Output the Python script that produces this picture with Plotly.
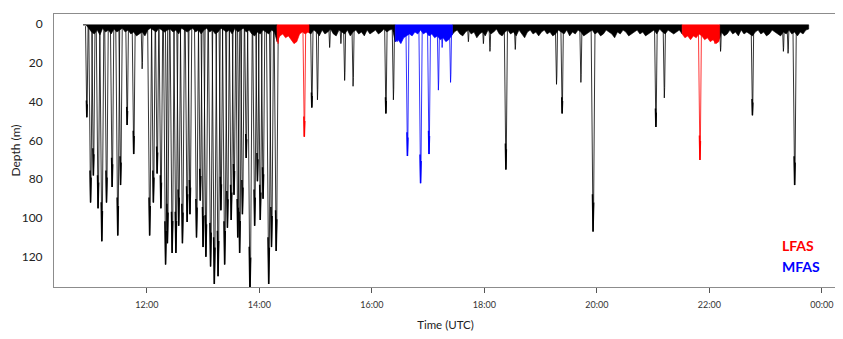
import numpy as np
import plotly.graph_objects as go

# ---------------- data ----------------
# Dives: time of deepest point (UTC) and maximum depth (m)
dive_time = [
    "10:56", "11:00", "11:03", "11:08", "11:12", "11:17", "11:23", "11:29", "11:32",
    "11:39", "11:46", "11:55", "12:03", "12:07", "12:11", "12:15", "12:20", "12:22",
    "12:27", "12:31", "12:34", "12:38", "12:43", "12:46", "12:53", "12:57", "13:00",
    "13:03", "13:08", "13:12", "13:16", "13:19", "13:23", "13:26", "13:30", "13:33",
    "13:37", "13:39", "13:42", "13:46", "13:50", "13:55", "13:58", "14:01", "14:04",
    "14:10", "14:13", "14:18",
    "14:20", "14:48",
    "14:56", "15:02", "15:15", "15:27", "15:31", "15:40", "16:15", "16:23",
    "16:27", "16:38", "16:52", "17:01", "17:11", "17:15", "17:24",
    "17:43", "17:59", "18:06", "18:23", "18:33", "19:17", "19:23", "19:43", "19:56",
    "21:03", "21:12",
    "21:50", "22:06",
    "22:12", "22:46", "23:19", "23:24", "23:31",
]
dive_depth = [
    48, 92, 78, 95, 112, 92, 84, 109, 83,
    52, 67, 23, 109, 92, 77, 95, 124, 113,
    118, 118, 104, 113, 102, 98, 110, 91, 115,
    120, 125, 134, 130, 96, 124, 105, 101, 88,
    110, 118, 98, 69, 140, 104, 81, 101, 90,
    134, 115, 117,
    10, 58,
    43, 39, 12, 10, 29, 32, 46, 39,
    9, 68, 82, 67, 34, 12, 30,
    9, 10, 14, 75, 13, 31, 46, 30, 107,
    53, 38,
    70, 10,
    14, 47, 14, 15, 83,
]

# Near-surface activity band: lower edge depth (m), one value every 3 minutes
band_start = "10:52"
band_step_min = 3
band_depth = [
    # 10:52 - 14:16
    0.3, 0.3, 2, 4, 5, 3, 5.5, 2, 4, 3, 5, 2.5, 4, 3, 2, 4, 3, 5, 4, 6, 5, 4, 6, 3,
    2, 3, 4, 2, 3, 4, 3, 2.5, 4, 3, 5, 2, 3, 4, 3, 2, 4, 3, 5, 3, 2, 4, 3, 5, 4, 2,
    3, 4, 3, 5, 2, 4, 3, 2, 4, 3, 5, 6, 4, 5, 3, 4, 5, 3, 4,
    # 14:19 - 14:52
    9, 6, 5, 7, 6, 8, 10, 9, 5, 4, 5, 4,
    # 14:55 - 16:22
    5, 3, 4, 6, 3, 5, 4, 2.5, 5, 6, 3, 4, 5, 3, 6, 4, 3, 5, 4, 6,
    3, 5, 4, 3, 5, 4, 2.5, 4, 3, 2.5,
    # 16:25 - 17:25
    9, 8, 10, 7, 6, 5, 6, 4, 5, 3, 5, 4, 6, 5, 7, 6, 8, 7, 9, 8, 6,
    # 17:28 - 21:28
    4, 3, 5, 6, 4, 3, 5, 4, 7, 5, 4, 6, 3, 5, 4, 2.5, 5, 6, 4, 3,
    5, 4, 6, 3, 5, 7, 4, 3, 5, 4, 6, 4, 3, 5, 4, 6, 5, 3, 4, 5,
    3, 6, 4, 5, 3, 4, 6, 5, 4, 3, 5, 4, 6, 5, 3, 4, 5, 7, 4, 5,
    3, 4, 6, 5, 4, 3, 5, 4, 6, 5, 4, 3, 5, 2.5, 4, 5, 3, 4, 5, 4, 3,
    # 21:31 - 22:10
    5, 7, 6, 8, 6, 7, 5, 6, 8, 7, 9, 8, 10, 9,
    # 22:13 - 23:46
    4, 6, 5, 3, 5, 4, 6, 3, 5, 4, 5, 6, 4, 3, 5, 4, 6, 5, 3, 4,
    5, 6, 4, 5, 3, 5, 4, 6, 4, 5, 3, 2.5,
]

# Sonar exposure periods
lfas_periods = [("14:19", "14:53"), ("21:31", "22:11")]
mfas_periods = [("16:25", "17:26")]

tick_hours = [12, 14, 16, 18, 20, 22, 24]
tick_labels = ["12:00", "14:00", "16:00", "18:00", "20:00", "22:00", "00:00"]
depth_ticks = [0, 20, 40, 60, 80, 100, 120]

# ---------------- helpers ----------------
def hours(s):
    h, m = s.split(":")
    return int(h) + int(m) / 60.0

BLACK, RED, BLUE = "#000000", "#ff0000", "#0000ff"
SURF = 0.3

bt = hours(band_start) + np.arange(len(band_depth)) * band_step_min / 60.0
bd = np.array(band_depth, dtype=float)
t_start, t_end = bt[0], bt[-1]

colored = [(hours(a), hours(b), RED) for a, b in lfas_periods] + \
          [(hours(a), hours(b), BLUE) for a, b in mfas_periods]
colored.sort()

def color_at(t):
    for a, b, c in colored:
        if a <= t <= b:
            return c
    return BLACK

windows = []
cur = t_start
for a, b, c in colored:
    if a > cur:
        windows.append((cur, a, BLACK))
    windows.append((a, b, c))
    cur = b
if cur < t_end:
    windows.append((cur, t_end, BLACK))

fig = go.Figure()

def add_band(a, b, col):
    inside = (bt > a) & (bt < b)
    xs = np.concatenate([[a], bt[inside], [b]])
    ys = np.concatenate([[np.interp(a, bt, bd)], bd[inside], [np.interp(b, bt, bd)]])
    px = np.concatenate([xs, xs[::-1], [xs[0]]])
    py = np.concatenate([ys, np.full(len(xs), SURF), [ys[0]]])
    fig.add_trace(go.Scatter(x=px, y=py, mode="lines", fill="toself",
                             fillcolor=col, line=dict(color=col, width=0.6),
                             hoverinfo="skip", showlegend=False))

def add_dives(col):
    xs, ys, bx, by = [], [], [], []
    for t_s, d in zip(dive_time, dive_depth):
        t = hours(t_s)
        if color_at(t) != col:
            continue
        h = (0.8 + 0.012 * d) / 60.0
        xs += [t - h, t - 0.3 * h, t, t + 0.3 * h, t + h, None]
        ys += [SURF + 0.7, 0.82 * d, d, 0.86 * d, SURF + 0.7, None]
        if d >= 40:
            bx += [t - 0.3 * h, t, t + 0.3 * h, None]
            by += [0.82 * d, d, 0.86 * d, None]
    fig.add_trace(go.Scatter(x=xs, y=ys, mode="lines",
                             line=dict(color=col, width=0.8),
                             hoverinfo="skip", showlegend=False))
    fig.add_trace(go.Scatter(x=bx, y=by, mode="lines",
                             line=dict(color=col, width=1.5),
                             hoverinfo="skip", showlegend=False))

for a, b, c in [w for w in windows if w[2] == BLACK]:
    add_band(a, b, c)
add_dives(BLACK)
for a, b, c in [w for w in windows if w[2] != BLACK]:
    add_band(a, b, c)
add_dives(RED)
add_dives(BLUE)

font_family = "Lato, 'Open Sans', sans-serif"

fig.add_annotation(text="<b>LFAS</b>", x=0.9275, y=0.151, xref="paper", yref="paper",
                   xanchor="left", yanchor="middle", showarrow=False,
                   font=dict(color=RED, size=14, family=font_family))
fig.add_annotation(text="<b>MFAS</b>", x=0.9275, y=0.074, xref="paper", yref="paper",
                   xanchor="left", yanchor="middle", showarrow=False,
                   font=dict(color=BLUE, size=14, family=font_family))

# the page body adds an 8px offset, so the figure is sized to fit the window
fig.update_layout(
    width=835, height=331,
    margin=dict(l=46, r=6, t=6, b=52, autoexpand=False),
    paper_bgcolor="white", plot_bgcolor="white",
    font=dict(family=font_family, color="#222222"),
    showlegend=False,
    xaxis=dict(
        range=[10.35, 24.27], tickvals=tick_hours, ticktext=tick_labels,
        ticks="outside", ticklen=5, tickcolor="#555555", tickwidth=1,
        showline=True, mirror=True, linecolor="#8c8c8c", linewidth=1,
        showgrid=False, zeroline=False, automargin=False,
        tickfont=dict(size=9, color="#333333"),
        ticklabelstandoff=4,
        title=dict(text="Time (UTC)", font=dict(size=11.5, color="#222222"), standoff=12),
    ),
    yaxis=dict(
        range=[135.6, -5.3], tickvals=depth_ticks,
        ticks="", showline=True, mirror=True, linecolor="#8c8c8c", linewidth=1,
        showgrid=False, zeroline=False, automargin=False,
        tickfont=dict(size=12, color="#222222"),
        ticklabelstandoff=8,
        title=dict(text="Depth (m)", font=dict(size=12, color="#222222"), standoff=2),
    ),
)

fig.write_html("out.html")
